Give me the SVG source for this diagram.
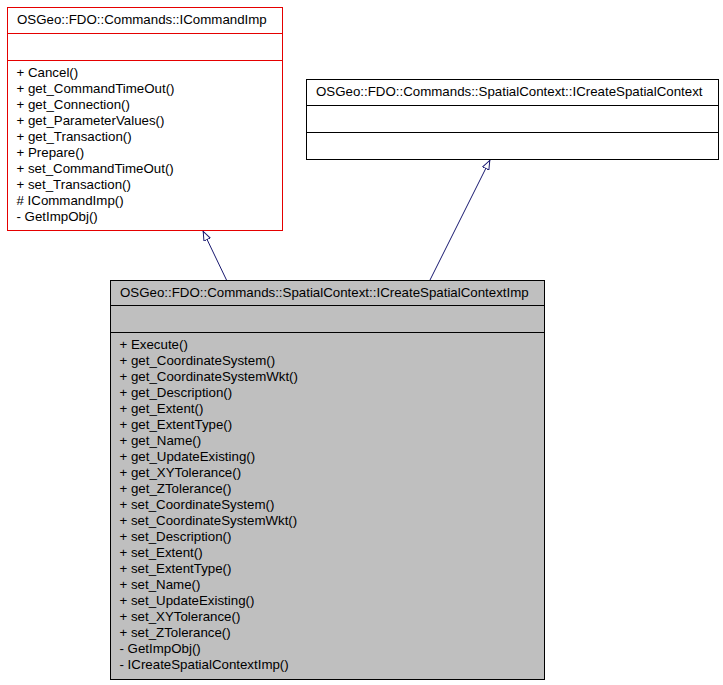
<svg xmlns="http://www.w3.org/2000/svg" width="723" height="685" viewBox="0 0 723 685">
  <style>
    .box { stroke-width: 1; }
    .txt { font-family: "Liberation Sans", Arial, Helvetica, sans-serif; font-size: 13.3px; fill: #000000; }
    .edge { fill: none; stroke: #191970; stroke-width: 1; }
  </style>
  <defs>
    <!-- hollow inheritance arrowhead -->
    <marker id="inherit" markerUnits="userSpaceOnUse" viewBox="0 0 10 8" refX="10" refY="4" markerWidth="10" markerHeight="8" orient="auto">
      <path d="M0.5,0.5 L9.5,4 L0.5,7.5 Z" fill="#ffffff" stroke="#191970" stroke-width="1"/>
    </marker>
  </defs>
  <rect width="723" height="685" fill="#ffffff"/>

  <!-- generalisation connectors -->
  <g id="connectors">
    <path class="edge" d="M226.5,280 L203,231" marker-end="url(#inherit)"/>
    <path class="edge" d="M430,280 L490,160" marker-end="url(#inherit)"/>
  </g>

  <!-- ICommandImp -->
  <g id="ICommandImp">
    <rect class="box" x="7.5" y="7.5" width="275" height="223" fill="#ffffff" stroke="#e50000"/>
    <line x1="7.5" y1="33.5" x2="282.5" y2="33.5" stroke="#e50000"/>
    <line x1="7.5" y1="60.5" x2="282.5" y2="60.5" stroke="#e50000"/>
    <text class="txt" x="17" y="24">OSGeo::FDO::Commands::ICommandImp</text>
    <text class="txt" x="16.5" y="77">+ Cancel()</text>
    <text class="txt" x="16.5" y="93">+ get_CommandTimeOut()</text>
    <text class="txt" x="16.5" y="109">+ get_Connection()</text>
    <text class="txt" x="16.5" y="125">+ get_ParameterValues()</text>
    <text class="txt" x="16.5" y="141">+ get_Transaction()</text>
    <text class="txt" x="16.5" y="157">+ Prepare()</text>
    <text class="txt" x="16.5" y="173">+ set_CommandTimeOut()</text>
    <text class="txt" x="16.5" y="189">+ set_Transaction()</text>
    <text class="txt" x="16.5" y="205"># ICommandImp()</text>
    <text class="txt" x="16.5" y="221">- GetImpObj()</text>
  </g>

  <!-- ICreateSpatialContext -->
  <g id="ICreateSpatialContext">
    <rect class="box" x="306.5" y="79.5" width="412" height="80" fill="#ffffff" stroke="#000000"/>
    <line x1="306.5" y1="105.5" x2="718.5" y2="105.5" stroke="#000000"/>
    <line x1="306.5" y1="132.5" x2="718.5" y2="132.5" stroke="#000000"/>
    <text class="txt" x="316" y="96">OSGeo::FDO::Commands::SpatialContext::ICreateSpatialContext</text>
  </g>

  <!-- ICreateSpatialContextImp -->
  <g id="ICreateSpatialContextImp">
    <rect class="box" x="110.5" y="280.5" width="434" height="399" fill="#bfbfbf" stroke="#000000"/>
    <line x1="110.5" y1="305.5" x2="544.5" y2="305.5" stroke="#000000"/>
    <line x1="110.5" y1="332.5" x2="544.5" y2="332.5" stroke="#000000"/>
    <text class="txt" x="120" y="297">OSGeo::FDO::Commands::SpatialContext::ICreateSpatialContextImp</text>
    <text class="txt" x="119.5" y="349">+ Execute()</text>
    <text class="txt" x="119.5" y="365">+ get_CoordinateSystem()</text>
    <text class="txt" x="119.5" y="381">+ get_CoordinateSystemWkt()</text>
    <text class="txt" x="119.5" y="397">+ get_Description()</text>
    <text class="txt" x="119.5" y="413">+ get_Extent()</text>
    <text class="txt" x="119.5" y="429">+ get_ExtentType()</text>
    <text class="txt" x="119.5" y="445">+ get_Name()</text>
    <text class="txt" x="119.5" y="461">+ get_UpdateExisting()</text>
    <text class="txt" x="119.5" y="477">+ get_XYTolerance()</text>
    <text class="txt" x="119.5" y="493">+ get_ZTolerance()</text>
    <text class="txt" x="119.5" y="509">+ set_CoordinateSystem()</text>
    <text class="txt" x="119.5" y="525">+ set_CoordinateSystemWkt()</text>
    <text class="txt" x="119.5" y="541">+ set_Description()</text>
    <text class="txt" x="119.5" y="557">+ set_Extent()</text>
    <text class="txt" x="119.5" y="573">+ set_ExtentType()</text>
    <text class="txt" x="119.5" y="589">+ set_Name()</text>
    <text class="txt" x="119.5" y="605">+ set_UpdateExisting()</text>
    <text class="txt" x="119.5" y="621">+ set_XYTolerance()</text>
    <text class="txt" x="119.5" y="637">+ set_ZTolerance()</text>
    <text class="txt" x="119.5" y="653">- GetImpObj()</text>
    <text class="txt" x="119.5" y="669">- ICreateSpatialContextImp()</text>
  </g>
</svg>
